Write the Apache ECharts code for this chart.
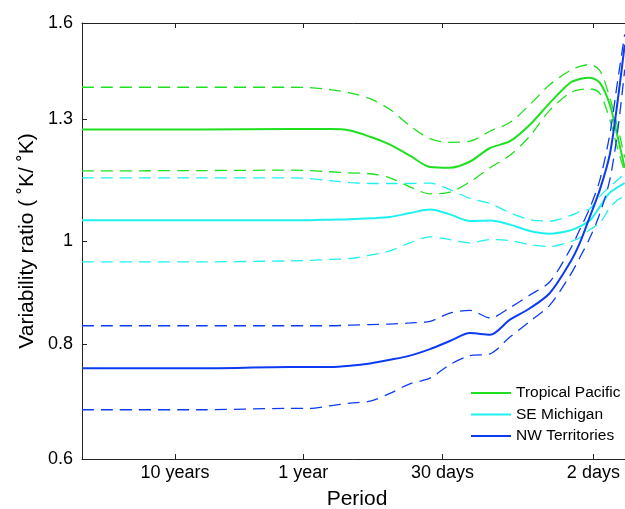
<!DOCTYPE html>
<html>
<head>
<meta charset="utf-8">
<script src="https://cdn.jsdelivr.net/npm/echarts@6/dist/echarts.min.js"></script>
<style>
  html, body { margin: 0; padding: 0; background: #fff; }
  #chart { width: 625px; height: 509px; }
</style>
</head>
<body>
<div id="chart"></div>
<script>
// Period of each sample, in days (long periods on the left)
const periodDays = [19400, 2334, 464, 324, 226, 158, 110, 77.1, 53.9, 37.6, 26.3, 18.3,
                    12.8, 8.95, 6.25, 4.37, 3.05, 2.55, 2.13, 1.78, 1.49, 1.29, 1.14];

// Variability ratio, mean and confidence bounds, per region
const tropicalMean  = [1.272, 1.272, 1.273, 1.273, 1.273, 1.269, 1.252, 1.231, 1.202, 1.173, 1.171, 1.187,
                       1.222, 1.240, 1.285, 1.347, 1.406, 1.418, 1.422, 1.406, 1.342, 1.250, 1.171];
const tropicalUpper = [1.393, 1.393, 1.393, 1.392, 1.386, 1.376, 1.359, 1.328, 1.282, 1.247, 1.237, 1.240,
                       1.267, 1.291, 1.342, 1.401, 1.444, 1.457, 1.463, 1.444, 1.362, 1.277, 1.197];
const tropicalLower = [1.163, 1.164, 1.165, 1.164, 1.161, 1.158, 1.156, 1.146, 1.124, 1.107, 1.111, 1.136,
                       1.171, 1.203, 1.254, 1.326, 1.376, 1.386, 1.388, 1.374, 1.299, 1.218, 1.161];

const michiganMean  = [1.046, 1.046, 1.046, 1.046, 1.047, 1.048, 1.050, 1.053, 1.062, 1.070, 1.059, 1.044,
                       1.045, 1.036, 1.022, 1.016, 1.023, 1.032, 1.045, 1.077, 1.110, 1.123, 1.133];
const michiganUpper = [1.146, 1.146, 1.146, 1.144, 1.139, 1.134, 1.132, 1.132, 1.132, 1.133, 1.117, 1.096,
                       1.084, 1.063, 1.047, 1.044, 1.056, 1.065, 1.072, 1.101, 1.125, 1.141, 1.158];
const michiganLower = [0.956, 0.956, 0.958, 0.959, 0.961, 0.963, 0.970, 0.979, 0.996, 1.009, 1.003, 0.996,
                       1.003, 1.001, 0.992, 0.988, 0.998, 1.007, 1.025, 1.040, 1.074, 1.093, 1.101];

const territoriesMean  = [0.760, 0.760, 0.762, 0.762, 0.762, 0.764, 0.768, 0.774, 0.781, 0.792, 0.806, 0.820,
                          0.817, 0.844, 0.865, 0.894, 0.954, 0.996, 1.054, 1.117, 1.205, 1.356, 1.527];
const territoriesUpper = [0.833, 0.833, 0.833, 0.833, 0.833, 0.834, 0.835, 0.836, 0.838, 0.841, 0.856, 0.861,
                          0.847, 0.866, 0.890, 0.916, 0.981, 1.025, 1.074, 1.141, 1.258, 1.416, 1.561];
const territoriesLower = [0.695, 0.695, 0.697, 0.697, 0.701, 0.705, 0.708, 0.720, 0.735, 0.744, 0.766, 0.781,
                          0.784, 0.813, 0.841, 0.871, 0.928, 0.965, 1.007, 1.061, 1.141, 1.271, 1.447];

// Axis ticks
const xTickValues = [3652.5, 365.25, 30, 2];
const xTickLabels = ['10 years', '1 year', '30 days', '2 days'];
const yTickValues = [0.625, 0.8, 1, 1.3, 1.6];
const yTickLabels = ['0.6', '0.8', '1', '1.3', '1.6'];

const regionNames = ['Tropical Pacific', 'SE Michigan', 'NW Territories'];
const regionColors = ['#1fe01f', '#1ff0f0', '#0d3bf2'];

const FONT = 'Liberation Sans, Arial, Helvetica, sans-serif';
const AXIS_COLOR = '#222';

function tickLabel(values, labels) {
  return function (v) {
    for (let i = 0; i < values.length; i++) {
      if (Math.abs(v - values[i]) / values[i] < 1e-3) return labels[i];
    }
    return '';
  };
}

function lineSeries(name, values, color, dashed) {
  return {
    type: 'line',
    name: name,
    data: periodDays.map((p, i) => [p, values[i]]),
    symbol: 'none',
    showSymbol: false,
    smooth: 0.3,
    silent: true,
    lineStyle: { color: color, width: dashed ? 1.3 : 2, type: dashed ? [12, 7] : 'solid' },
    itemStyle: { color: color }
  };
}

const groups = [
  [tropicalMean, tropicalUpper, tropicalLower],
  [michiganMean, michiganUpper, michiganLower],
  [territoriesMean, territoriesUpper, territoriesLower]
];

const series = [];
groups.forEach((g, k) => {
  series.push(lineSeries(regionNames[k] + ' upper bound', g[1], regionColors[k], true));
  series.push(lineSeries(regionNames[k] + ' lower bound', g[2], regionColors[k], true));
  series.push(lineSeries(regionNames[k], g[0], regionColors[k], false));
});

const xCommon = {
  type: 'log',
  logBase: 10,
  inverse: true,
  min: 1,
  max: 19400,
  splitLine: { show: false },
  minorTick: { show: false },
  axisLine: { show: true, onZero: false, lineStyle: { color: AXIS_COLOR, width: 1 } },
  axisTick: { show: true, inside: true, length: 5, customValues: xTickValues,
              lineStyle: { color: AXIS_COLOR } }
};

const chart = echarts.init(document.getElementById('chart'), null, { renderer: 'canvas' });
chart.setOption({
  animation: false,
  backgroundColor: '#fff',
  textStyle: { fontFamily: FONT },
  grid: { left: 82, top: 23, width: 550, height: 436, outerBoundsMode: 'none', containLabel: false },
  legend: {
    data: regionNames.map((n, k) => ({ name: n, icon: 'rect', itemStyle: { color: regionColors[k] } })),
    orient: 'vertical',
    left: 466,
    top: 380,
    itemWidth: 40,
    itemHeight: 2,
    itemGap: 5.5,
    textStyle: { fontSize: 15.5, color: '#000', fontFamily: FONT, lineHeight: 16 }
  },
  xAxis: [
    Object.assign({}, xCommon, {
      position: 'bottom',
      name: 'Period',
      nameLocation: 'middle',
      nameGap: 30,
      nameMoveOverlap: false,
      nameTextStyle: { fontSize: 21, color: '#000', fontFamily: FONT },
      axisLabel: { customValues: xTickValues, formatter: tickLabel(xTickValues, xTickLabels),
                   fontSize: 18, color: '#000', margin: 5, fontFamily: FONT }
    }),
    Object.assign({}, xCommon, {
      position: 'top',
      axisLabel: { show: false }
    })
  ],
  yAxis: {
    type: 'log',
    logBase: 10,
    min: 0.625,
    max: 1.6,
    name: 'Variability ratio ( ˚K/ ˚K)',
    nameLocation: 'middle',
    nameGap: 44,
    nameMoveOverlap: false,
    nameTextStyle: { fontSize: 21, color: '#000', fontFamily: FONT },
    splitLine: { show: false },
    minorTick: { show: false },
    axisLine: { show: true, onZero: false, lineStyle: { color: AXIS_COLOR, width: 1 } },
    axisTick: { show: true, inside: true, length: 5, customValues: yTickValues,
                lineStyle: { color: AXIS_COLOR } },
    axisLabel: { customValues: yTickValues, formatter: tickLabel(yTickValues, yTickLabels),
                 fontSize: 18, color: '#000', margin: 9, fontFamily: FONT }
  },
  series: series
});
</script>
</body>
</html>
